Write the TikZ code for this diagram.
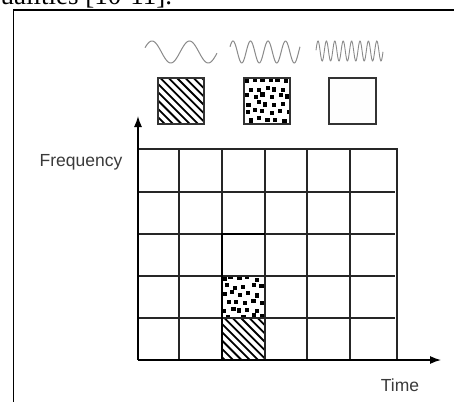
\documentclass[tikz,border=0pt]{standalone}
\usepackage{fontspec}
\setmainfont{Liberation Sans}
\newfontfamily\serifx{Liberation Serif}
\usetikzlibrary{arrows.meta}
\definecolor{txt}{HTML}{3A3A3A}
\definecolor{wave}{HTML}{8A8A8A}
\definecolor{paleback}{HTML}{FEFEFE}
\newcommand\hatchbox[4]{%
  \begin{scope}
    \clip (#1,#2) rectangle (#3,#4);
    \foreach \k in {-64,-55.7,...,64} \draw[line width=1.8pt] ({#1+\k},#2) -- ++(70,70);
  \end{scope}}
\newcommand\dotbox[5]{%
  \begin{scope}
    \clip (#1,#2) rectangle (#3,#4);
    \pgfmathsetseed{#5}
    \foreach \r in {0,...,5} \foreach \c in {0,...,5} {
      \pgfmathsetmacro\dx{#1+2+\c*8.2+mod(\r,2)*4+rand*2}
      \pgfmathsetmacro\dy{#2+2.5+\r*7.8+rand*2}
      \fill (\dx-2.1,\dy-2.1) rectangle ++(4.2,4.2);
    }
  \end{scope}}
\tikzset{
  gridline/.style={line width=1.2pt, black!85},
  boxline/.style={line width=1.2pt, black!80},
  axis/.style={line width=1.3pt, -{Latex[length=11pt,width=8pt]}},
  lbl/.style={text=txt, font=\fontsize{17.5}{20}\selectfont, inner sep=0pt},
  wavy/.style={wave, line width=1pt, smooth},
}
\begin{document}
\begin{tikzpicture}[x=1pt,y=-1pt]
\useasboundingbox (0,0) rectangle (454,401);
\clip (0,0) rectangle (454,401);
% cut-off text at top
\node[anchor=base west, inner sep=0pt, font=\serifx\fontsize{27}{27}\selectfont] (cut) at (-13,5) {qualities [10-11].};
% frame
\draw[line width=1.5pt] (13.5,420) -- (13.5,10) -- (470,10);
% waves
\draw[wavy] plot[domain=145:217, samples=80] (\x,{52-11*cos((\x-152)/37.5*360)});
\draw[wavy] plot[domain=230:300, samples=100] (\x,{52-11*cos((\x-233)/17.5*360)});
\draw[wavy, line width=0.9pt] plot[domain=316:383, samples=160] (\x,{51-10*cos((\x-318)/8.4*360)});
% legend squares
\hatchbox{158}{78}{204}{124}
\draw[boxline] (158,78) rectangle (204,124);
\dotbox{244}{78}{290}{124}{11}
\draw[boxline] (244,78) rectangle (290,124);
\draw[boxline, fill=paleback] (329,78) rectangle (376,124);
% highlighted cells
\hatchbox{222}{318}{265}{360}
\dotbox{222}{276}{265}{318}{5}
\fill[paleback] (222,234) rectangle (265,276);
% grid
\foreach \yy in {149,192,234,276,318} \draw[gridline] (138,\yy) -- (395,\yy);
\foreach \xx in {179,222,265,307,350} \draw[gridline] (\xx,149) -- (\xx,360);
\draw[gridline] (138,149) -- (397,149) -- (397,360);
\draw[line width=2.3pt] (222,360) -- (222,234) -- (265,234);
% axes
\coordinate (origin) at (138,360);
\coordinate (ytip) at (138,116);
\coordinate (xtip) at (441,360);
\draw[axis] (origin) -- (ytip);
\draw[axis] (origin) -- (xtip);
% labels
\node[lbl] (freq) at (81,162) {Frequency};
\node[lbl] (time) at (400,385) {Time};
\end{tikzpicture}
\end{document}
